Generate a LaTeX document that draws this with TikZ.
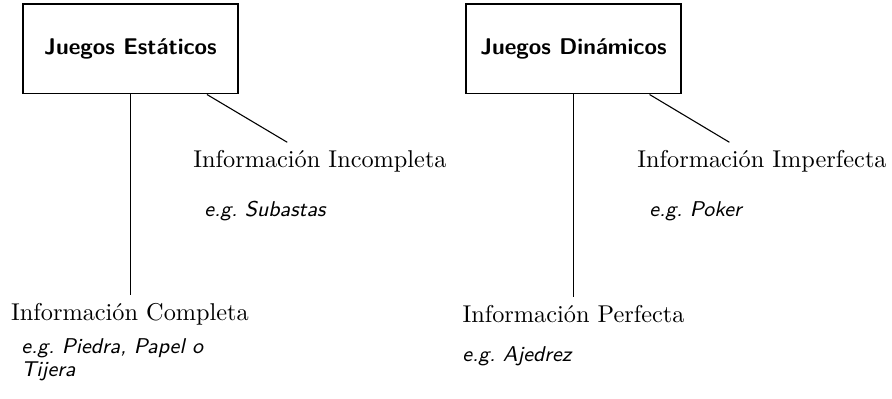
\documentclass[tikz,border=0pt]{standalone}
\begin{document}
\begin{tikzpicture}[x=0.4115pt, y=-0.4115pt,
  gamebox/.style={draw, line width=0.45pt, minimum width=88.5pt, minimum height=37pt, font=\sffamily\bfseries\fontsize{9.35}{11}\selectfont, inner sep=0pt},
  infolabel/.style={anchor=base, inner sep=3.33pt, font=\fontsize{10}{12}\selectfont},
  example/.style={anchor=base west, inner sep=0pt, align=left, font=\sffamily\itshape\fontsize{8.8}{8.6}\selectfont},
  link/.style={line width=0.45pt}]
\useasboundingbox (0,0) rectangle (892,399);
\node[gamebox] (est) at (130.5,49) {Juegos Estáticos};
\node[gamebox] (din) at (573.5,49) {Juegos Dinámicos};
\node[infolabel] (comp) at (130,321) {Información Completa};
\node[infolabel] (incomp) at (320,168) {Información Incompleta};
\node[infolabel] (perf) at (573.5,323) {Información Perfecta};
\node[infolabel] (imperf) at (762,168) {Información Imperfecta};
\node[example] (exsub) at (204,217) {e.g.\ Subastas};
\node[example] (expie) at (21,377) {e.g.\ Piedra, Papel o\\[1pt]Tijera};
\node[example] (exaje) at (462,362) {e.g.\ Ajedrez};
\node[example] (expok) at (649,217) {e.g.\ Poker};
\draw[link] (est.south) -- (est.south |- comp.north);
\draw[link] (est) -- (incomp);
\draw[link] (din.south) -- (din.south |- perf.north);
\draw[link] (din) -- (imperf);
\end{tikzpicture}
\end{document}
